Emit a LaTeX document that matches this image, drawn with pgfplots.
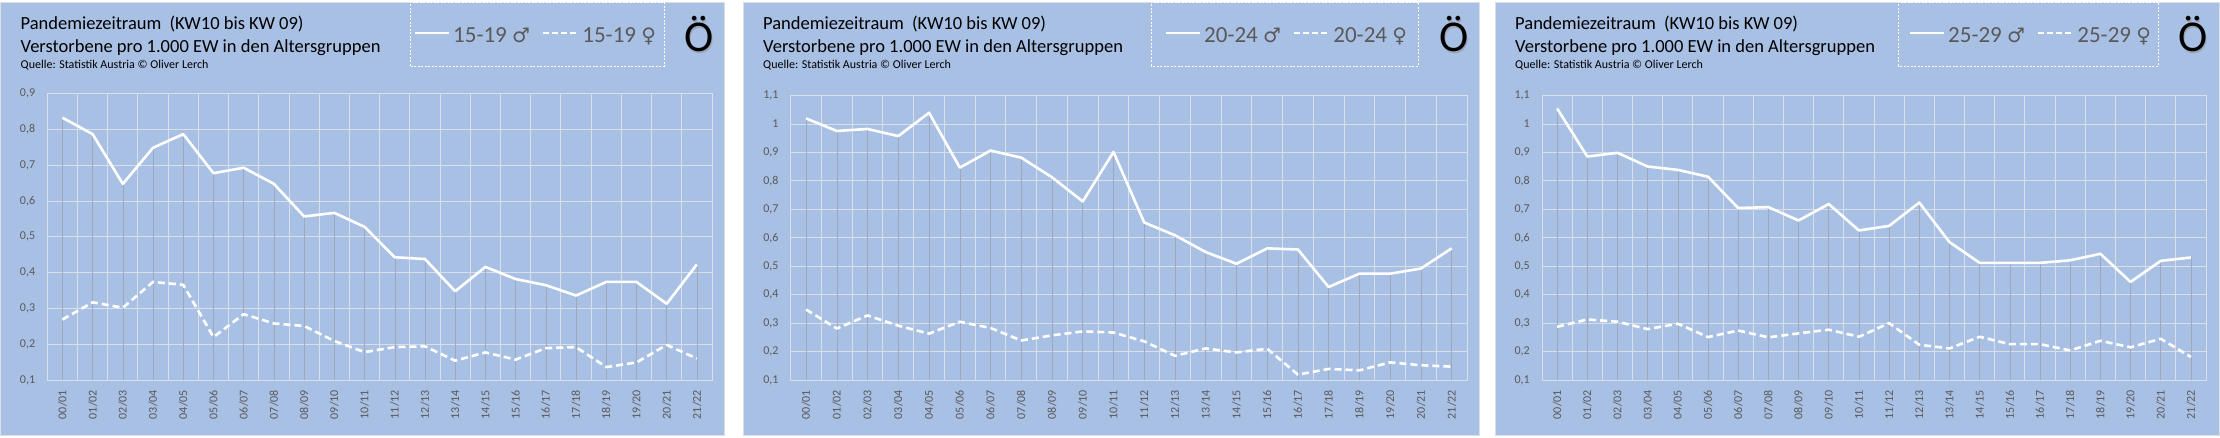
\documentclass[border=0pt]{standalone}
\usepackage{fontspec}
\setmainfont{Carlito}
\newfontfamily\symfont{DejaVu Sans}
\usepackage{pgfplots}
\pgfplotsset{compat=1.18}
\usepackage{pgfplotstable}
\usetikzlibrary{calc}

\definecolor{panelbg}{RGB}{169,192,229}
\definecolor{gridc}{RGB}{218,222,230}
\definecolor{dropc}{RGB}{158,168,188}
\definecolor{txtgray}{RGB}{89,89,89}

\pgfplotstableread{
x m f
0 0.833 0.269
1 0.787 0.317
2 0.648 0.302
3 0.749 0.374
4 0.787 0.366
5 0.678 0.220
6 0.693 0.284
7 0.648 0.258
8 0.557 0.251
9 0.567 0.209
10 0.528 0.178
11 0.443 0.192
12 0.438 0.194
13 0.348 0.154
14 0.416 0.177
15 0.382 0.157
16 0.365 0.189
17 0.336 0.192
18 0.374 0.136
19 0.374 0.149
20 0.313 0.198
21 0.423 0.160
}\tA

\pgfplotstableread{
x m f
0 1.020 0.348
1 0.976 0.281
2 0.983 0.327
3 0.958 0.291
4 1.040 0.263
5 0.847 0.305
6 0.907 0.283
7 0.882 0.239
8 0.813 0.257
9 0.728 0.271
10 0.902 0.267
11 0.654 0.236
12 0.609 0.185
13 0.550 0.211
14 0.509 0.197
15 0.563 0.210
16 0.559 0.119
17 0.427 0.139
18 0.474 0.134
19 0.474 0.162
20 0.492 0.152
21 0.563 0.147
}\tB

\pgfplotstableread{
x m f
0 1.055 0.287
1 0.886 0.313
2 0.899 0.305
3 0.851 0.279
4 0.839 0.298
5 0.815 0.251
6 0.705 0.274
7 0.708 0.250
8 0.661 0.264
9 0.719 0.277
10 0.626 0.252
11 0.642 0.300
12 0.724 0.224
13 0.585 0.211
14 0.512 0.252
15 0.512 0.226
16 0.512 0.226
17 0.521 0.204
18 0.544 0.238
19 0.445 0.215
20 0.519 0.245
21 0.531 0.181
}\tC

\pgfplotsset{panel/.style={
  scale only axis,
  xmin=-0.5, xmax=21.5,
  xtick={0,...,21},
  xticklabels={00/01,01/02,02/03,03/04,04/05,05/06,06/07,07/08,08/09,09/10,10/11,11/12,12/13,13/14,14/15,15/16,16/17,17/18,18/19,19/20,20/21,21/22},
  minor xtick={-0.5,0.5,...,21.5},
  xminorgrids, ymajorgrids,
  grid style={draw=gridc, line width=1pt},
  minor grid style={draw=gridc, line width=1pt},
  axis line style={draw=gridc, line width=1pt},
  major tick length=0pt, minor tick length=0pt,
  ticklabel style={font=\fontsize{12}{12}\selectfont, text=txtgray},
  xticklabel style={yshift=-10pt, rotate=90, anchor=east, inner sep=0pt},
  yticklabel style={anchor=east, inner sep=0pt, xshift=-12pt},
  /pgf/number format/use comma,
  /pgf/number format/fixed,
  /pgf/number format/precision=1,
  /pgf/number format/assume math mode=true,
  no markers,
  clip=false,
}}

\newcommand{\legfont}{\fontsize{23}{23}\selectfont}
\newcommand{\panelhead}[7]{% #1 panel left, #2 panel right, #3 legend box L, #4 legend box R, #5 content start, #6 label, #7 Oe center
  \fill[panelbg] (#1,2) rectangle (#2,435);
  \draw[gridc, line width=0.8pt] (#1,2) rectangle (#2,435);
  \node[anchor=base west, inner sep=0, font=\fontsize{18.5}{18.5}\selectfont] at (#1+20,407) {Pandemiezeitraum\hspace{4pt} (KW10 bis KW 09)};
  \node[anchor=base west, inner sep=0, font=\fontsize{18.5}{18.5}\selectfont] at (#1+20,384) {Verstorbene pro 1.000 EW in den Altersgruppen};
  \node[anchor=base west, inner sep=0, font=\fontsize{12}{12}\selectfont] at (#1+20,368) {Quelle: Statistik Austria © Oliver Lerch};
  \draw[white, line width=0.8pt, dash pattern=on 2pt off 1.5pt] (#3,371) rectangle (#4,435);
  \draw[white, line width=2.6pt] (#5,404) -- ++(34,0);
  \node[anchor=base west, inner sep=0, font=\legfont, text=txtgray] (t1) at (#5+38,394) {#6 {\symfont\fontsize{20}{20}\selectfont ♂}};
  \draw[white, line width=2.6pt, dash pattern=on 6pt off 3pt] ($(t1.base east)+(13,10)$) -- ++(35,0);
  \node[anchor=base west, inner sep=0, font=\legfont, text=txtgray] at ($(t1.base east)+(52,0)$) {#6 {\symfont\fontsize{20}{20}\selectfont ♀}};
  \node[anchor=base, inner sep=0, font=\fontsize{44}{44}\selectfont, text=black!45, opacity=0.5] at (#7+1.5,383.5) {Ö};
  \node[anchor=base, inner sep=0, font=\fontsize{44}{44}\selectfont] at (#7,385) {Ö};
}

\begin{document}
\begin{tikzpicture}[x=1pt,y=1pt]
\useasboundingbox (0,0) rectangle (2220,437);
\fill[white] (0,0) rectangle (2220,437);

\panelhead{0.5}{724}{410}{664}{415}{15-19}{699}
\panelhead{743}{1479}{1151}{1418}{1166}{20-24}{1454}
\panelhead{1495}{2219.5}{1898}{2158}{1910}{25-29}{2193}

\begin{axis}[panel, at={(47.3pt,57pt)}, anchor=south west,
  width=664.7pt, height=286.3pt, ymin=0.1, ymax=0.9,
  ytick={0.1,0.2,0.3,0.4,0.5,0.6,0.7,0.8,0.9}]
\addplot[ycomb, draw=dropc, line width=0.5pt, forget plot] table[x=x,y=m]{\tA};
\addplot[white, line width=2.6pt, line join=round] table[x=x,y=m]{\tA};
\addplot[white, line width=2.6pt, line join=round, dash pattern=on 7pt off 4pt] table[x=x,y=f]{\tA};
\end{axis}

\begin{axis}[panel, at={(790.7pt,57pt)}, anchor=south west,
  width=676.3pt, height=284.3pt, ymin=0.1, ymax=1.1,
  ytick={0.1,0.2,0.3,0.4,0.5,0.6,0.7,0.8,0.9,1.0,1.1}]
\addplot[ycomb, draw=dropc, line width=0.5pt, forget plot] table[x=x,y=m]{\tB};
\addplot[white, line width=2.6pt, line join=round] table[x=x,y=m]{\tB};
\addplot[white, line width=2.6pt, line join=round, dash pattern=on 7pt off 4pt] table[x=x,y=f]{\tB};
\end{axis}

\begin{axis}[panel, at={(1542pt,57pt)}, anchor=south west,
  width=664pt, height=284.3pt, ymin=0.1, ymax=1.1,
  ytick={0.1,0.2,0.3,0.4,0.5,0.6,0.7,0.8,0.9,1.0,1.1}]
\addplot[ycomb, draw=dropc, line width=0.5pt, forget plot] table[x=x,y=m]{\tC};
\addplot[white, line width=2.6pt, line join=round] table[x=x,y=m]{\tC};
\addplot[white, line width=2.6pt, line join=round, dash pattern=on 7pt off 4pt] table[x=x,y=f]{\tC};
\end{axis}
\end{tikzpicture}
\end{document}
